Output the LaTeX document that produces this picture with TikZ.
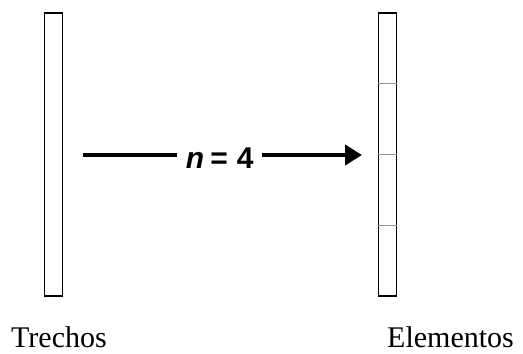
\documentclass[tikz,border=0pt]{standalone}
\usepackage{fontspec}
\setmainfont{Liberation Serif}
\newfontfamily\arialfont{Liberation Sans}
\usepackage{tikz}
\usetikzlibrary{arrows.meta, calc}

\begin{document}
\begin{tikzpicture}[
    x=1pt, y=-1pt,
    bar/.style={
        draw, rectangle, line width=1.2pt, minimum width=18pt,
        minimum height=283pt, inner sep=0pt
    },
    divider/.style={
        draw=gray!85, line width=1.5pt
    },
    label/.style={
        anchor=base west, inner sep=0pt,
        font=\fontsize{30}{34}\selectfont
    },
    fat/.style={
        line width=4pt, -{Triangle[length=17pt, width=20pt]}
    }
]
\useasboundingbox (0,0) rectangle (523,354);

\node [bar] (trecho) at (53.5,154.5) {};
\node [bar] (elem)   at (387.5,154.5) {};

% subdivisoes
\foreach \i in {1,2,3}
    \draw [divider] ($(elem.north west)!\i/4!(elem.south west)$)
        -- ($(elem.north east)!\i/4!(elem.south east)$);

\coordinate (from) at (83,155);
\coordinate (to)   at (362,155);

\draw [fat] (from) -- (to)
    node [pos=0.49, fill=white, inner xsep=9pt, inner ysep=2pt, yshift=-3pt,
          font=\arialfont\bfseries\fontsize{30}{34}\selectfont]
    (n) {\textit{n}\hspace{6pt}=\hspace{9pt}4};

\node [label] (trechos)   at (11,347)  {Trechos};
\node [label] (elementos) at (387,347) {Elementos};

\end{tikzpicture}
\end{document}
